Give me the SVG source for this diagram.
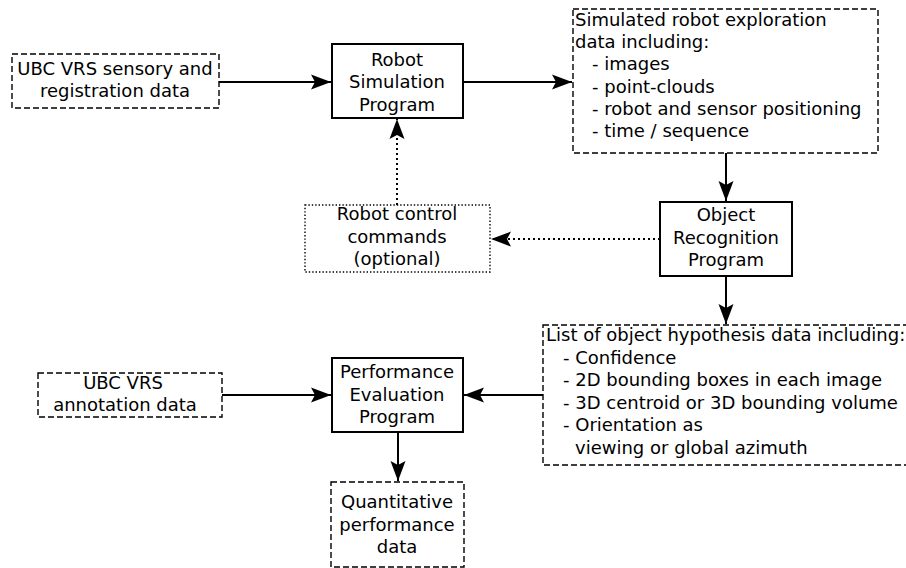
<svg xmlns="http://www.w3.org/2000/svg" width="906" height="568" viewBox="0 0 906 568">
<style>
text{font-family:"DejaVu Sans",sans-serif;font-size:18px;fill:#000}
.c{text-anchor:middle}
.solid{fill:#fff;stroke:#000;stroke-width:2}
.dash{fill:#fff;stroke:#000;stroke-width:1.4;stroke-dasharray:6,3}
.dot{fill:#fff;stroke:#000;stroke-width:1.4;stroke-dasharray:1.4,2}
.ln{fill:none;stroke:#000;stroke-width:2}
.dl{fill:none;stroke:#000;stroke-width:2;stroke-dasharray:2,3}
</style>
<defs>
<marker id="ah" markerUnits="userSpaceOnUse" markerWidth="21" markerHeight="16" refX="20" refY="8" orient="auto">
<path d="M0,0.5 L20,8 L0,15.5 L4,8 z" fill="#000"/>
</marker>
</defs>
<rect width="906" height="568" fill="#fff"/>
<g id="connectors">
<line class="ln" x1="219" y1="82" x2="331" y2="82" marker-end="url(#ah)"/>
<line class="ln" x1="463" y1="82" x2="572" y2="82" marker-end="url(#ah)"/>
<line class="ln" x1="726" y1="153" x2="726" y2="201" marker-end="url(#ah)"/>
<line class="dl" x1="660" y1="239" x2="491" y2="239" marker-end="url(#ah)"/>
<line class="dl" x1="397" y1="205" x2="397" y2="119" marker-end="url(#ah)"/>
<line class="ln" x1="726" y1="276" x2="726" y2="324" marker-end="url(#ah)"/>
<line class="ln" x1="543" y1="395" x2="464" y2="395" marker-end="url(#ah)"/>
<line class="ln" x1="222" y1="395" x2="331" y2="395" marker-end="url(#ah)"/>
<line class="ln" x1="398" y1="432" x2="398" y2="481" marker-end="url(#ah)"/>
</g>
<g id="ubc-sensory">
<rect class="dash" x="12" y="54" width="207" height="54"/>
<text class="c" x="115" y="75">UBC VRS sensory and</text>
<text class="c" x="115" y="97">registration data</text>
</g>
<g id="robot-sim">
<rect class="solid" x="332" y="44" width="131" height="74"/>
<text class="c" x="397" y="65.5">Robot</text>
<text class="c" x="397" y="88">Simulation</text>
<text class="c" x="397" y="110.5">Program</text>
</g>
<g id="sim-data">
<rect class="dash" x="573" y="9" width="305" height="144"/>
<text x="575" y="26">Simulated robot exploration</text>
<text x="575" y="48">data including:</text>
<text x="592" y="70">- images</text>
<text x="592" y="92.5">- point-clouds</text>
<text x="592" y="115">- robot and sensor positioning</text>
<text x="592" y="137">- time / sequence</text>
</g>
<g id="robot-control">
<rect class="dot" x="305" y="205" width="185" height="67"/>
<text class="c" x="397" y="220">Robot control</text>
<text class="c" x="397" y="243">commands</text>
<text class="c" x="397" y="265">(optional)</text>
</g>
<g id="object-rec">
<rect class="solid" x="660" y="202" width="132" height="74"/>
<text class="c" x="726" y="221">Object</text>
<text class="c" x="726" y="244">Recognition</text>
<text class="c" x="726" y="266">Program</text>
</g>
<g id="hypothesis">
<rect class="dash" x="543" y="325" width="370" height="140"/>
<text x="546" y="341">List of object hypothesis data including:</text>
<text x="563" y="363.5">- Confidence</text>
<text x="563" y="386">- 2D bounding boxes in each image</text>
<text x="563" y="408.5">- 3D centroid or 3D bounding volume</text>
<text x="563" y="431">- Orientation as</text>
<text x="575" y="453.5">viewing or global azimuth</text>
</g>
<g id="ubc-annotation">
<rect class="dash" x="38" y="373" width="184" height="44"/>
<text class="c" x="123" y="389">UBC VRS</text>
<text class="c" x="125" y="411">annotation data</text>
</g>
<g id="perf-eval">
<rect class="solid" x="332" y="358" width="131" height="74"/>
<text class="c" x="397" y="378">Performance</text>
<text class="c" x="397" y="400.5">Evaluation</text>
<text class="c" x="397" y="423">Program</text>
</g>
<g id="quantitative">
<rect class="dash" x="331" y="482" width="133" height="85"/>
<text class="c" x="397" y="508">Quantitative</text>
<text class="c" x="397" y="530.5">performance</text>
<text class="c" x="397" y="553">data</text>
</g>
</svg>
